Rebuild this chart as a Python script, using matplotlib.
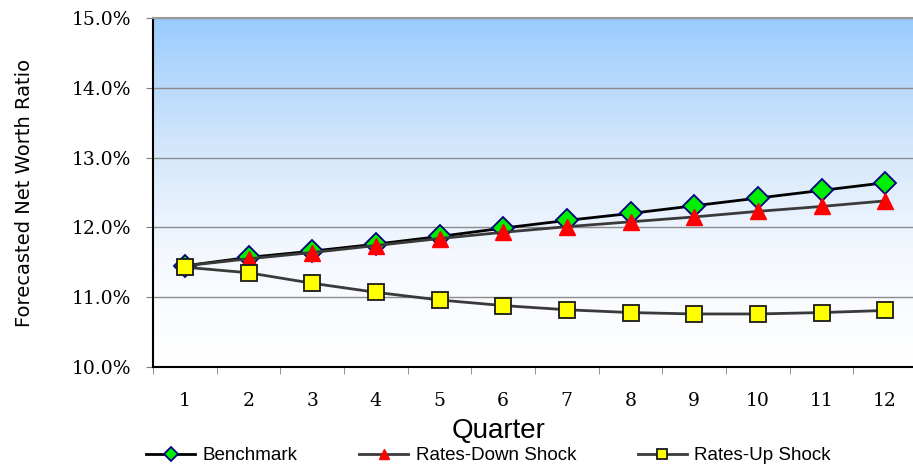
import numpy as np
import matplotlib
matplotlib.use("Agg")
import matplotlib.pyplot as plt
from matplotlib.colors import LinearSegmentedColormap
from matplotlib.ticker import FuncFormatter, MultipleLocator

# --- Data (net worth ratio, %) ---
quarters = list(range(1, 13))
benchmark = [11.45, 11.57, 11.66, 11.76, 11.87, 11.99, 12.10, 12.20, 12.31, 12.42, 12.53, 12.64]
rates_down = [11.45, 11.55, 11.64, 11.74, 11.84, 11.93, 12.01, 12.08, 12.15, 12.23, 12.30, 12.38]
rates_up = [11.43, 11.35, 11.20, 11.07, 10.96, 10.88, 10.82, 10.78, 10.76, 10.76, 10.78, 10.81]
series_names = ["Benchmark", "Rates-Down Shock", "Rates-Up Shock"]

SERIF = ["DejaVu Serif"]
SANS = ["Liberation Sans", "DejaVu Sans"]

fig = plt.figure(figsize=(9.13, 4.68), dpi=100)
# plot area runs a few pixels past the right edge of the image, as in the original
ax = fig.add_axes([153 / 913, 101 / 468, 764 / 913, 349 / 468])

# background gradient, light blue at top fading to white
cmap = LinearSegmentedColormap.from_list("bg", ["#ffffff", "#f4f8fe", "#cfe4fb", "#99ccff"])
grad = np.linspace(0, 1, 256).reshape(-1, 1)
ax.imshow(grad, cmap=cmap, aspect="auto", origin="lower",
          extent=[0, 1, 0, 1], transform=ax.transAxes, zorder=0)

ax.plot(quarters, benchmark, color="black", lw=2, marker="D", ms=11.5,
        mfc="#00ee00", mec="#000080", mew=1.3, label=series_names[0], zorder=4)
ax.plot(quarters, rates_down, color="#3a3a3a", lw=2, marker="^", ms=12,
        mfc="red", mec="red", mew=1, label=series_names[1], zorder=5)
ax.plot(quarters, rates_up, color="#3a3a3a", lw=2, marker="s", ms=11.5,
        mfc="yellow", mec="#1a1a1a", mew=1.3, label=series_names[2], zorder=6)

ax.set_xlim(0.5, 12.5)
ax.set_ylim(10.0, 15.0)
ax.yaxis.set_major_locator(MultipleLocator(1.0))
ax.yaxis.set_major_formatter(FuncFormatter(lambda v, p: f"{v:.1f}%"))
ax.grid(axis="y", color="#8c8c8c", lw=1, zorder=1)
ax.set_axisbelow(True)

ax.set_xticks(quarters)
ax.set_xticks(np.arange(0.5, 13, 1), minor=True)
ax.tick_params(axis="x", which="major", length=0, pad=18)
ax.tick_params(axis="x", which="minor", length=5, color="#808080", direction="out")
ax.tick_params(axis="y", length=5, color="#808080", pad=11)
for lab in ax.get_xticklabels() + ax.get_yticklabels():
    lab.set_family(SERIF)
    lab.set_fontsize(13.5)

ax.spines["right"].set_visible(False)
ax.spines["top"].set_color("#9a9a9a")
ax.spines["top"].set_linewidth(1.5)
ax.spines["left"].set_linewidth(1.5)
ax.spines["bottom"].set_linewidth(1.5)

ax.set_ylabel("Forecasted Net Worth Ratio", family=["DejaVu Sans"], fontsize=14, labelpad=27)
ax.set_xlabel("Quarter", family=SANS, fontsize=20)
# centre the axis title on the visible part of the figure
ax.xaxis.set_label_coords((499 - 153) / 764, -0.145)

fig.legend(loc="center", bbox_to_anchor=(0.535, 0.026), ncol=3, frameon=False,
           prop={"family": SANS, "size": 13.5}, handlelength=2.6,
           columnspacing=3.3, handletextpad=0.4, markerscale=0.6)

fig.savefig("out.png", dpi=100)
